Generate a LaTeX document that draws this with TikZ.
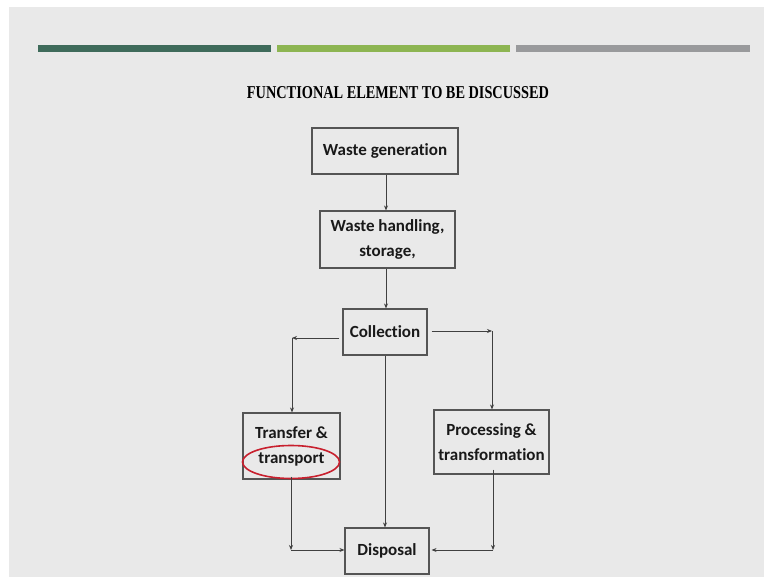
\documentclass[tikz,border=0pt]{standalone}
\usepackage{fontspec}
\setmainfont{Liberation Serif}
\newfontfamily\calib[Ligatures={NoCommon,NoContextual}]{Carlito}
\usetikzlibrary{arrows.meta,shapes.geometric}
\definecolor{bg}{HTML}{E9E9E9}
\definecolor{barA}{HTML}{3F6B5B}
\definecolor{barB}{HTML}{8DB552}
\definecolor{barC}{HTML}{999A9C}
\definecolor{edge}{HTML}{555555}
\definecolor{lin}{HTML}{404040}
\definecolor{ovalred}{HTML}{C8202E}
\begin{document}
\begin{tikzpicture}[x=1pt,y=-1pt,
  box/.style={draw=edge,line width=1.1pt,inner sep=0pt,align=center,
    font=\calib\bfseries\fontsize{17}{25}\selectfont,text=black!90},
  conn/.style={draw=lin,line width=0.8pt,-{Stealth[length=5pt,width=4pt]}}]
\useasboundingbox (0,0) rectangle (764,577);
\fill[white] (0,0) rectangle (764,577);
\fill[bg] (9,7) rectangle (764,577);
\fill[barA] (38,45) rectangle (271,52);
\fill[barB] (277,45) rectangle (510,52);
\fill[barC] (516,45) rectangle (750,52);
\node (title) at (398,93) {\resizebox{302pt}{12pt}{\bfseries FUNCTIONAL ELEMENT TO BE DISCUSSED}};
\node[box,minimum width=146pt,minimum height=46pt] (gen) at (385,151) {Waste generation};
\node[box,minimum width=135pt,minimum height=57pt] (hand) at (387.5,239.5) {Waste handling,\\storage,};
\node[box,minimum width=84pt,minimum height=46pt] (col) at (385,332) {Collection};
\node[box,minimum width=97pt,minimum height=66pt] (tra) at (291.5,446) {Transfer \&\\transport};
\node[box,minimum width=115pt,minimum height=64pt] (pro) at (491.5,442) {Processing \&\\transformation};
\node[box,minimum width=84pt,minimum height=46pt] (dis) at (387,551) {Disposal};
\node[draw=ovalred,line width=1.6pt,ellipse,minimum width=97pt,minimum height=33pt] (oval) at (291,462) {};
\coordinate (lt) at (292,338);
\coordinate (rt) at (492,331);
\coordinate (lb) at (291,550);
\coordinate (rb) at (493,550);
\coordinate (c1) at (386,0);
\draw[conn] (gen.south -| c1) -- (hand.north -| c1);
\draw[conn] (hand.south -| c1) -- (col.north -| c1);
\draw[conn] ([xshift=-3pt]col.west |- lt) -- (lt);
\draw[conn] (lt) -- (lt |- tra.north);
\draw[conn] ([xshift=4pt]col.east |- rt) -- (rt);
\draw[conn] (rt) -- (rt |- pro.north);
\draw[conn] (col.south) -- (col.south |- dis.north);
\draw[conn] ([yshift=3pt]tra.south -| lb) -- (lb);
\draw[conn] (lb) -- (dis.west |- lb);
\draw[conn] ([yshift=5pt]pro.south -| rb) -- (rb);
\draw[conn] (rb) -- ([xshift=2pt]dis.east |- rb);
\end{tikzpicture}
\end{document}
